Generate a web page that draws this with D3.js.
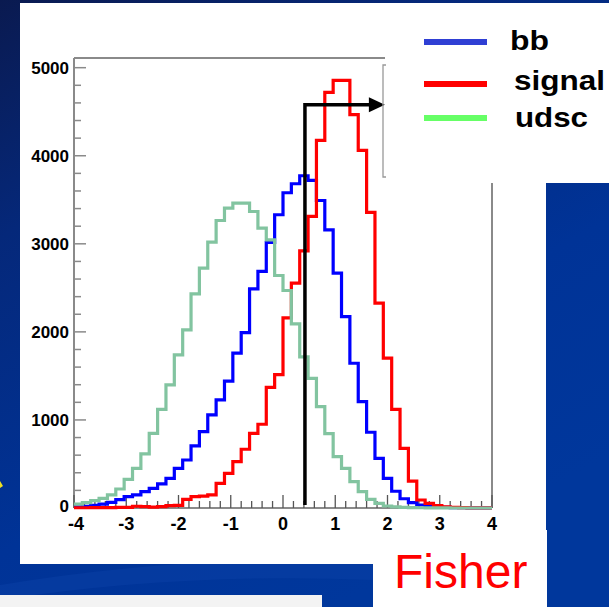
<!DOCTYPE html>
<html>
<head>
<meta charset="utf-8">
<script src="https://cdn.jsdelivr.net/npm/d3@7"></script>
<style>
  html, body { margin: 0; padding: 0; background: #0b1f5e; }
  svg { display: block; }
  text { font-family: "Liberation Sans", Arial, Helvetica, sans-serif; }
</style>
</head>
<body>
<svg id="chart" width="609" height="607"></svg>
<script>
// ---------------- DATA ----------------
const xRangeLo = -4, xRangeHi = 4, nBins = 50;
const bbCounts = [12, 18, 30, 45, 65, 95, 129, 148, 186, 223, 273, 337, 451, 545, 705, 867, 1057, 1227, 1440, 1758,
                  1992, 2489, 2686, 3015, 3330, 3580, 3682, 3773, 3720, 3492, 3159, 2667, 2174, 1644, 1208, 860, 564, 337, 190, 105,
                  60, 34, 20, 12, 7, 4, 3, 2, 1, 1];
const signalCounts = [3, 3, 4, 5, 5, 6, 8, 20, 15, 10, 15, 28, 30, 99, 129, 135, 148, 280, 394, 526,
                  667, 848, 951, 1370, 1515, 2160, 2553, 2920, 3311, 4174, 4720, 4856, 4856, 4466, 4060, 3356, 2326, 1701, 1121, 678,
                  305, 91, 53, 26, 12, 6, 4, 2, 1, 1];
const udscCounts = [45, 60, 83, 110, 148, 216, 326, 451, 614, 848, 1121, 1398, 1739, 2023, 2432, 2723, 3019, 3265, 3405, 3462,
                  3462, 3367, 3178, 3045, 2640, 2470, 2091, 1715, 1473, 1151, 845, 583, 451, 299, 186, 99, 53, 23, 12, 7,
                  4, 3, 2, 1, 1, 0, 0, 0, 0, 0];
const yTickValues = [0, 1000, 2000, 3000, 4000, 5000];
const xTickValues = [-4, -3, -2, -1, 0, 1, 2, 3, 4];
const legendLabels = ["bb", "signal", "udsc"];
const cutValue = 0.42, cutHeight = 4580, arrowTipValue = 1.95;
const yAxisMax = 5110;
const xAxisTitle = "Fisher";

// ---------------- LAYOUT ----------------
const svg = d3.select("#chart");
const W = 609, H = 607;

const defs = svg.append("defs");
const bg = defs.append("linearGradient").attr("id", "bg")
  .attr("x1", "0").attr("y1", "0").attr("x2", "0.55").attr("y2", "1");
bg.append("stop").attr("offset", "0").attr("stop-color", "#0a1a50");
bg.append("stop").attr("offset", "0.3").attr("stop-color", "#05287a");
bg.append("stop").attr("offset", "0.7").attr("stop-color", "#003397");
bg.append("stop").attr("offset", "1").attr("stop-color", "#00379c");

svg.append("rect").attr("width", W).attr("height", H).attr("fill", "url(#bg)");
// subtle swoosh in the lower-left background
svg.append("path").attr("d", "M0,585 Q180,555 373,560 L373,580 Q180,572 0,600 Z")
  .attr("fill", "#0a3fa6").attr("opacity", 0.5);

// white panels of the slide
svg.append("rect").attr("x", 20).attr("y", 3).attr("width", 526).attr("height", 561).attr("fill", "#ffffff");
svg.append("rect").attr("x", 373).attr("y", 530).attr("width", 174).attr("height", 77).attr("fill", "#ffffff");
svg.append("rect").attr("x", 383).attr("y", 3).attr("width", 226).attr("height", 180).attr("fill", "#ffffff");
svg.append("rect").attr("x", 0).attr("y", 595).attr("width", 322).attr("height", 12).attr("fill", "#f3f3f3");
// small yellow mark at left edge
svg.append("path").attr("d", "M0,481 L3,486 L0,488 Z").attr("fill", "#f0e020");

// ---------------- SCALES ----------------
const x = d3.scaleLinear().domain([xRangeLo, xRangeHi]).range([74, 492]);
const y = d3.scaleLinear().domain([0, yAxisMax]).range([508, 58]);
const binW = (xRangeHi - xRangeLo) / nBins;
const edges = d3.range(nBins + 1).map(i => xRangeLo + i * binW);

const frameColor = "#8a8a8a";
const g = svg.append("g");

// frame (partially hidden by legend box)
g.append("line").attr("x1", x(-4)).attr("x2", x(-4)).attr("y1", y(yAxisMax)).attr("y2", y(0))
  .attr("stroke", frameColor).attr("stroke-width", 2);
g.append("line").attr("x1", x(-4)).attr("x2", 385).attr("y1", y(yAxisMax)).attr("y2", y(yAxisMax))
  .attr("stroke", frameColor).attr("stroke-width", 2);
g.append("line").attr("x1", x(4)).attr("x2", x(4)).attr("y1", 183).attr("y2", y(0))
  .attr("stroke", frameColor).attr("stroke-width", 2);
g.append("line").attr("x1", x(-4)).attr("x2", x(4)).attr("y1", y(0)).attr("y2", y(0))
  .attr("stroke", frameColor).attr("stroke-width", 2);

// y ticks
const yMinor = d3.range(0, 5001, 200).filter(v => v % 1000 !== 0);
g.selectAll(".ymin").data(yMinor).enter().append("line")
  .attr("x1", x(-4)).attr("x2", x(-4) + 7).attr("y1", d => y(d)).attr("y2", d => y(d))
  .attr("stroke", frameColor).attr("stroke-width", 1.5);
g.selectAll(".ymaj").data(yTickValues).enter().append("line")
  .attr("x1", x(-4)).attr("x2", x(-4) + 12).attr("y1", d => y(d)).attr("y2", d => y(d))
  .attr("stroke", frameColor).attr("stroke-width", 1.5);
g.selectAll(".ylab").data(yTickValues).enter().append("text")
  .attr("x", 69).attr("y", d => y(d) - (d === 0 ? 2 : 0)).attr("dy", "0.36em")
  .attr("text-anchor", "end").attr("font-size", 17).attr("font-weight", "bold")
  .attr("fill", "#000").text(d => d);

// x ticks
const xMinor = d3.range(0, 41).map(i => -4 + i * 0.2).filter(v => Math.abs(v - Math.round(v)) > 1e-6);
g.selectAll(".xmin").data(xMinor).enter().append("line")
  .attr("x1", d => x(d)).attr("x2", d => x(d)).attr("y1", y(0)).attr("y2", y(0) - 7)
  .attr("stroke", "#555").attr("stroke-width", 1.3);
g.selectAll(".xmaj").data(xTickValues).enter().append("line")
  .attr("x1", d => x(d)).attr("x2", d => x(d)).attr("y1", y(0)).attr("y2", y(0) - 13)
  .attr("stroke", "#555").attr("stroke-width", 1.3);
g.selectAll(".xlab").data(xTickValues).enter().append("text")
  .attr("x", d => x(d) + (d === -4 ? 2 : 0)).attr("y", 530)
  .attr("text-anchor", "middle").attr("font-size", 18).attr("font-weight", "bold")
  .attr("fill", "#000").text(d => d);

// histograms
function histPoints(counts) {
  const pts = counts.map((c, i) => [edges[i], c]);
  pts.push([edges[nBins], counts[nBins - 1]]);
  return pts;
}
const stepLine = d3.line().x(d => x(d[0])).y(d => y(d[1])).curve(d3.curveStepAfter);
const series = [
  { counts: bbCounts, color: "#0000ff" },
  { counts: signalCounts, color: "#ff0000" },
  { counts: udscCounts, color: "#82c4a0" }
];
series.forEach(s => {
  g.append("path").attr("d", stepLine(histPoints(s.counts)))
    .attr("fill", "none").attr("stroke", s.color).attr("stroke-width", 3.2)
    .attr("stroke-linejoin", "miter");
});

// cut line with arrow
const cx = x(cutValue), cy = y(cutHeight), tipX = x(arrowTipValue);
g.append("path").attr("d", `M${cx},${y(0) - 3} L${cx},${cy} L${tipX - 12},${cy}`)
  .attr("fill", "none").attr("stroke", "#000").attr("stroke-width", 3.5);
g.append("path").attr("d", `M${tipX},${cy} L${tipX - 16},${cy - 7.5} L${tipX - 16},${cy + 7.5} Z`)
  .attr("fill", "#000");

// legend box bracket
g.append("path").attr("d", "M386,65 L383,65 L383,177 L386,177")
  .attr("fill", "none").attr("stroke", "#999").attr("stroke-width", 1.3);

// legend
const legendColors = ["#2f3fd4", "#ff0000", "#66ff66"];
const legendY = [42, 84, 118];
const legendTextX = [510, 514, 515];
const legendTextY = [50, 90, 127];
const legendTextLen = [39, 91, 73];
legendLabels.forEach((lab, i) => {
  svg.append("line").attr("x1", 424).attr("x2", 487).attr("y1", legendY[i]).attr("y2", legendY[i])
    .attr("stroke", legendColors[i]).attr("stroke-width", 6);
  svg.append("text").attr("x", legendTextX[i]).attr("y", legendTextY[i])
    .attr("font-size", 28).attr("font-weight", "bold").attr("fill", "#000")
    .attr("textLength", legendTextLen[i]).attr("lengthAdjust", "spacingAndGlyphs").text(lab);
});

// axis title
svg.append("text").attr("x", 394).attr("y", 588).attr("font-size", 48)
  .attr("fill", "#ff0000").text(xAxisTitle);
</script>
</body>
</html>
